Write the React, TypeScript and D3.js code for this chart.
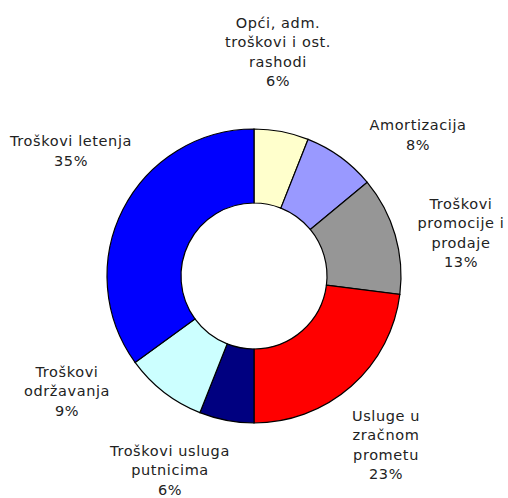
import React from 'react';
import * as d3 from 'd3';

// slices, clockwise from 12 o'clock
const categories = [
  'Opći, adm. troškovi i ost. rashodi',
  'Amortizacija',
  'Troškovi promocije i prodaje',
  'Usluge u zračnom prometu',
  'Troškovi usluga putnicima',
  'Troškovi održavanja',
  'Troškovi letenja',
];
const values = [6, 8, 13, 23, 6, 9, 35];
const labelLines = [
  ['Opći, adm.', 'troškovi i ost.', 'rashodi'],
  ['Amortizacija'],
  ['Troškovi', 'promocije i', 'prodaje'],
  ['Usluge u', 'zračnom', 'prometu'],
  ['Troškovi usluga', 'putnicima'],
  ['Troškovi', 'održavanja'],
  ['Troškovi letenja'],
];
const colors = ['#FFFFCC', '#9999FF', '#969696', '#FF0000', '#000080', '#CCFFFF', '#0000FF'];

// label box centres (layout)
const labelCenters: [number, number][] = [
  [278, 52],
  [418, 135],
  [461, 233],
  [386, 445],
  [170, 470],
  [67, 391],
  [71, 151],
];

const W = 508;
const H = 498;
const cx = 254;
const cy = 276;
const outerR = 147;
const innerR = 73;
const lineH = 19.5;

export default function App() {
  const pie = d3.pie<number>().sort(null).value(d => d);
  const arcs = pie(values);
  const arc = d3.arc<d3.PieArcDatum<number>>().innerRadius(innerR).outerRadius(outerR);
  const total = d3.sum(values);
  const fmt = d3.format('.0%');

  return (
    <svg width={W} height={H} style={{ position: 'absolute', left: 0, top: 0, background: '#fff' }}>
      <g transform={`translate(${cx},${cy})`}>
        {arcs.map((a, i) => (
          <path key={categories[i]} d={arc(a) || ''} fill={colors[i]} stroke="#000" strokeWidth={1.2} />
        ))}
      </g>
      <g fontFamily="'DejaVu Sans', sans-serif" fontSize={14.5} letterSpacing={0.6} fill="#222" textAnchor="middle">
        {labelLines.map((lines, i) => {
          const all = [...lines, fmt(values[i] / total)];
          const [lx, ly] = labelCenters[i];
          const y0 = ly - ((all.length - 1) * lineH) / 2;
          return (
            <text key={categories[i]} dominantBaseline="central">
              {all.map((t, j) => (
                <tspan key={j} x={lx} y={y0 + j * lineH}>{t}</tspan>
              ))}
            </text>
          );
        })}
      </g>
    </svg>
  );
}
